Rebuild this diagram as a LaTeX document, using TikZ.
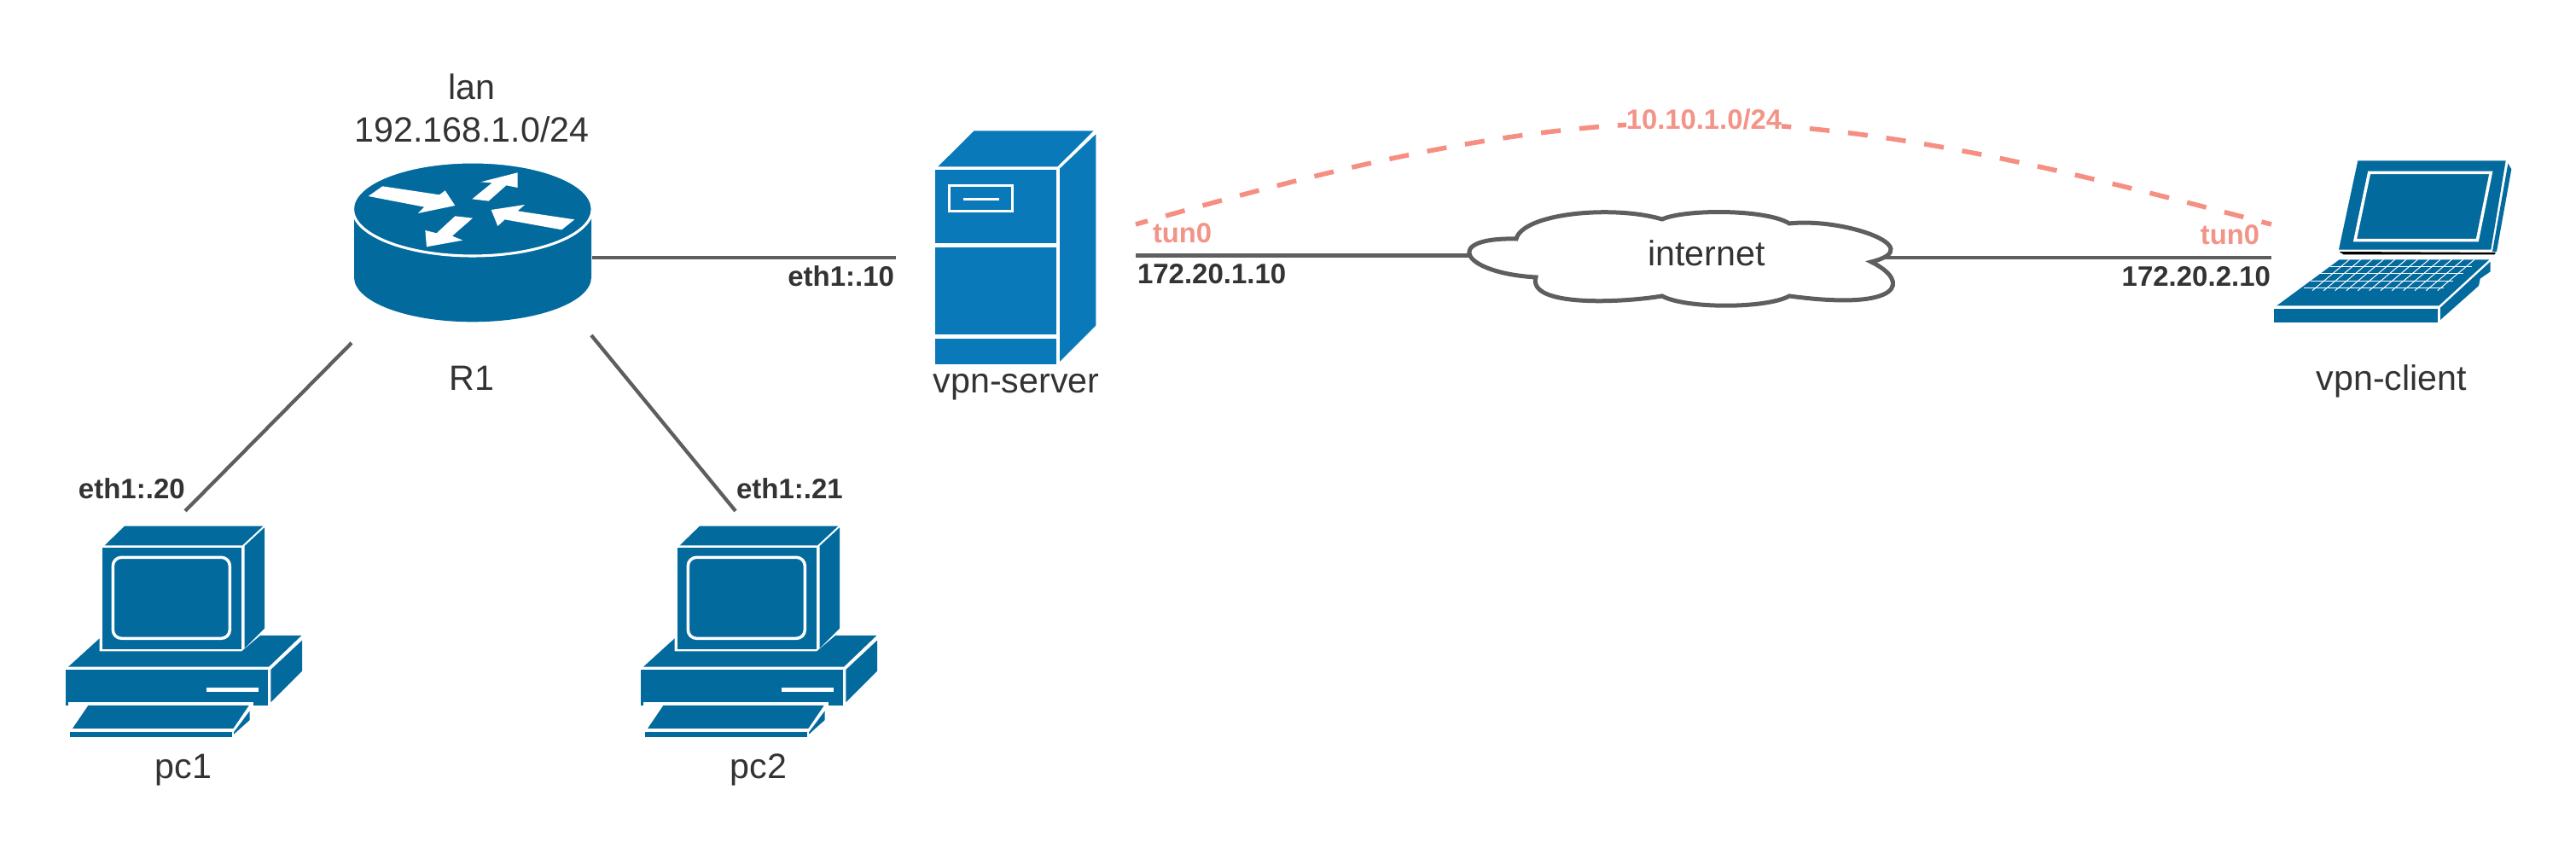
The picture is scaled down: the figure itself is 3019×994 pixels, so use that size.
\documentclass[tikz,border=0pt]{standalone}
\usepackage{fontspec}
\setmainfont{Liberation Sans}
\definecolor{ciscoblue}{HTML}{036A9E}
\definecolor{serverblue}{HTML}{0A79BA}
\definecolor{linegrey}{HTML}{5E5E5E}
\definecolor{txtgrey}{HTML}{333333}
\definecolor{tunline}{HTML}{F58F82}
\definecolor{tuntxt}{HTML}{F29488}
\tikzset{
  iconzoom/.style={x=0.0666667pt,y=-0.0666667pt},
  blue/.style={fill=ciscoblue,draw=none},
  sblue/.style={fill=serverblue,draw=none},
  whiteline/.style={draw=white,line width=0.7pt},
  link/.style={draw=linegrey,line width=0.85pt},
  tunnel/.style={draw=tunline,line width=1.1pt,dash pattern=on 4.64pt off 4.38pt,dash phase=1.72pt},
  devlabel/.style={font=\fontsize{8.24pt}{10pt}\selectfont,text=txtgrey,inner sep=0pt,anchor=base},
  addr/.style={font=\fontsize{6.6pt}{8pt}\selectfont\bfseries,text=txtgrey,inner sep=0pt},
  tunlabel/.style={font=\fontsize{6.55pt}{8pt}\selectfont\bfseries,text=tuntxt,inner sep=0pt},
}
\newcommand{\pcshape}[2]{%
\begin{scope}[shift={(#1,#2)},iconzoom]
  \fill[blue] (60,575) -- (170,475) -- (170,520) -- (670,520) -- (735,465) -- (880,465) -- (765,575) -- cycle;
  \fill[blue] (188,148) -- (258,80) -- (745,80) -- (672,148) -- cycle;
  \fill[blue] (180,157) rectangle (670,513);
  \fill[blue] (680,150) -- (750,85) -- (750,440) -- (680,510) -- cycle;
  \draw[whiteline,rounded corners=2pt] (217,190) rectangle (628,475);
  \fill[blue] (52,586) rectangle (762,710);
  \fill[blue] (772,585) -- (882,482) -- (882,590) -- (772,700) -- cycle;
  \fill[white] (545,648) rectangle (728,662);
  \fill[white] (60,700) rectangle (710,830);
  \fill[blue] (75,792) -- (130,711) -- (695,711) -- (640,792) -- cycle;
  \fill[blue] (66,804) rectangle (635,822);
  \fill[blue] (642,805) -- (698,730) -- (698,762) -- (642,812) -- cycle;
\end{scope}}
\begin{document}
\begin{tikzpicture}[x=0.2pt,y=-0.2pt]
\useasboundingbox (0,0) rectangle (3019,994);
\fill[white] (0,0) rectangle (3019,994);

% ports
\coordinate (r1east) at (694,302);
\coordinate (r1sw) at (412,402);
\coordinate (r1se) at (693,393);
\coordinate (srvwest) at (1050,302);
\coordinate (pc1top) at (217,599);
\coordinate (pc2top) at (862,599);
\coordinate (srveast) at (1331,299.5);
\coordinate (cloudwest) at (1724,299.5);
\coordinate (cloudeast) at (2208,302);
\coordinate (lapwest) at (2662,302);
\coordinate (tunstart) at (1331,263);
\coordinate (tunend) at (2662,263);
\coordinate (tunpeak) at (1985,144);

% links
\draw[link] (r1east) -- (srvwest);
\draw[link] (r1sw) -- (pc1top);
\draw[link] (r1se) -- (pc2top);
\draw[link] (srveast) -- (cloudwest);
\draw[link] (cloudeast) -- (lapwest);
\draw[tunnel] (tunstart) .. controls (1549,201) and (1767,144) .. (tunpeak)
  .. controls (2210,144) and (2436,204) .. (tunend);

% router
\begin{scope}[shift={(380,60)},iconzoom]
  \fill[blue] (105,555) -- (105,795) arc[start angle=180,end angle=0,x radius=417,y radius=157] -- (939,555) -- cycle;
  \filldraw[fill=ciscoblue,draw=white,line width=0.62pt] (521.5,555) ellipse[x radius=421,y radius=165];
  \fill[white] (155,510) -- (205,475) -- (405,505) -- (425,490) -- (460,543) -- (330,570) -- (352,548) -- cycle;
  \fill[white] (520,520) -- (590,463) -- (550,460) -- (680,427) -- (680,480) -- (640,472) -- (578,527) -- cycle;
  \fill[white] (880,592) -- (835,628) -- (635,592) -- (610,615) -- (587,558) -- (705,540) -- (680,562) -- cycle;
  \fill[white] (522,587) -- (450,650) -- (487,665) -- (360,688) -- (355,630) -- (395,640) -- (460,580) -- cycle;
\end{scope}

% computers
\pcshape{60}{590}
\pcshape{734}{590}

% server
\begin{scope}[shift={(1060,130)},iconzoom]
  \fill[sblue] (118,196) -- (245,70) -- (665,70) -- (538,196) -- cycle;
  \fill[sblue] (108,208) rectangle (533,465);
  \fill[sblue] (108,480) rectangle (533,785);
  \fill[sblue] (108,800) rectangle (533,890);
  \fill[sblue] (546,203) -- (673,82) -- (673,755) -- (546,882) -- cycle;
  \draw[whiteline] (158,263) rectangle (380,353);
  \fill[white] (208,305) rectangle (332,316);
\end{scope}

% laptop
\begin{scope}[shift={(2640,170)},iconzoom]
  \fill[blue] (370,55) -- (890,55) -- (838,368) -- (303,368) -- cycle;
  \draw[whiteline] (410,97) -- (838,97) -- (790,335) -- (360,335) -- cycle;
  \fill[blue] (898,65) -- (910,85) -- (858,375) -- (843,375) -- cycle;
  \fill[black] (305,375) -- (855,378) -- (850,385) -- (320,385) -- cycle;
  \fill[blue] (85,565) -- (305,403) -- (832,403) -- (655,565) -- cycle;
  \fill[blue] (75,575) rectangle (652,625);
  \fill[blue] (660,572) -- (836,410) -- (836,445) -- (800,470) -- (795,495) -- (660,615) -- cycle;
  \begin{scope}[draw=white,line width=0.2pt]
    \draw (272,428) -- (770,428);
    \draw (238,453) -- (740,453);
    \draw (205,480) -- (705,480);
    \draw (180,503) -- (672,503);
    \foreach \k in {340,380,...,780} {\draw (\k,403) -- (\k-130,512);}
  \end{scope}
\end{scope}

% cloud
\filldraw[fill=white,draw=linegrey,line width=1pt,line join=miter]
    (1777,280) .. controls (1785,250) and (1890,240) .. (1948,257)
    .. controls (1975,245) and (2070,245) .. (2097,262)
    .. controls (2160,255) and (2262,290) .. (2193,307)
    .. controls (2240,330) and (2230,365) .. (2097,347)
    .. controls (2070,362) and (1975,362) .. (1948,347)
    .. controls (1900,355) and (1790,360) .. (1800,325)
    .. controls (1712,320) and (1690,278) .. (1777,280) -- cycle;

% labels
\node[devlabel] (lanname) at (553,117) {lan};
\node[devlabel] (lannet) at (553,167) {192.168.1.0/24};
\node[devlabel] (r1) at (553,458) {R1};
\node[devlabel] (srv) at (1191,461) {vpn-server};
\node[devlabel] (lap) at (2803,458) {vpn-client};
\node[devlabel] (pc1) at (215,913) {pc1};
\node[devlabel] (pc2) at (889,913) {pc2};
\node[devlabel] (inet) at (2000,312) {internet};

\node[addr,anchor=base east] (a10) at (1049,336) {eth1:.10};
\node[addr,anchor=base west] (a21) at (862,585) {eth1:.21};
\node[addr,anchor=base west] (a20) at (91,585) {eth1:.20};
\node[addr,anchor=base west] (asrv) at (1332,333) {172.20.1.10};
\node[addr,anchor=base east] (acli) at (2662,336) {172.20.2.10};
\node[tunlabel,anchor=base west] (t1) at (1350,285) {tun0};
\node[tunlabel,anchor=base east] (t2) at (2649,287) {tun0};
\node[tunlabel,fill=white,anchor=base] (tnet) at (1997,152) {10.10.1.0/24};
\end{tikzpicture}
\end{document}
